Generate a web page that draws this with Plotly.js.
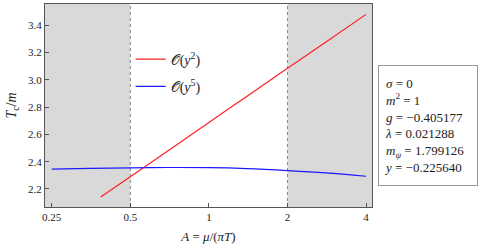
<!DOCTYPE html>
<html>
<head>
<meta charset="utf-8">
<script src="https://cdn.plot.ly/plotly-3.0.1.min.js"></script>
<style>html,body{margin:0;padding:0;background:#fff;}#chart{width:479px;height:248px;}</style>
</head>
<body>
<div id="chart"></div>
<script>
// Data
const xRed = [0.385, 0.5, 0.7, 1, 1.4, 2, 2.8, 4];
const yRed = [2.141, 2.290, 2.482, 2.687, 2.879, 3.083, 3.274, 3.478];
const xBlue = [0.25, 0.35, 0.5, 0.7, 1, 1.4, 2, 2.8, 4];
const yBlue = [2.345, 2.351, 2.355, 2.357, 2.356, 2.349, 2.335, 2.318, 2.293];
const seriesNames = ['𝒪(<i>y</i><sup>2</sup>)', '𝒪(<i>y</i><sup>5</sup>)'];
const xTicks = [0.25, 0.5, 1, 2, 4];
const xTickText = ['0.25', '0.5', '1', '2', '4'];
const yTicks = [2.2, 2.4, 2.6, 2.8, 3.0, 3.2, 3.4];
const yTickText = ['2.2', '2.4', '2.6', '2.8', '3.0', '3.2', '3.4'];
const shadeBounds = [0.5, 2];
const params = ['<i>σ</i> = 0', '<i>m</i><sup>2</sup> = 1', '<i>g</i> = −0.405177', '<i>λ</i> = 0.021288', '<i>m</i><sub><i>ψ</i></sub> = 1.799126', '<i>y</i> = −0.225640'];

const F = 'Liberation Serif, Times New Roman, serif';
const xMin = 0.2356, xMax = 4.215;

const traces = [
  {x: xRed, y: yRed, type: 'scatter', mode: 'lines', name: seriesNames[0], legendgroup: 'a',
   line: {color: '#ff2020', width: 1.2, shape: 'spline', smoothing: 0.6}},
  {x: xBlue, y: yBlue, type: 'scatter', mode: 'lines', name: seriesNames[1], legendgroup: 'b',
   line: {color: '#1a1aff', width: 1.2, shape: 'spline'}}
];

const layout = {
  width: 479, height: 248,
  margin: {l: 45, r: 107, t: 4, b: 41},
  paper_bgcolor: '#fff', plot_bgcolor: '#fff',
  font: {family: F, size: 11, color: '#222'},
  showlegend: true,
  legend: {x: 0.262, y: 0.805, xanchor: 'left', yanchor: 'top', bgcolor: 'rgba(0,0,0,0)',
           font: {family: F, size: 14, color: '#222'}, tracegroupgap: 6, itemwidth: 30},
  xaxis: {type: 'log', range: [Math.log10(xMin), Math.log10(xMax)],
          tickvals: xTicks, ticktext: xTickText, ticks: 'inside', ticklen: 4, tickcolor: '#555',
          showline: true, linecolor: '#555', linewidth: 1, mirror: true, showgrid: false, zeroline: false,
          title: {text: '<i>A</i> = <i>μ</i>/(<i>πT</i>)', font: {family: F, size: 13}, standoff: 9}},
  yaxis: {range: [2.068, 3.554], tickvals: yTicks, ticktext: yTickText, ticks: 'inside', ticklen: 4, tickcolor: '#555',
          showline: true, linecolor: '#555', linewidth: 1, mirror: true, showgrid: false, zeroline: false,
          title: {text: '<i>T</i><sub>c</sub>/<i>m</i>', font: {family: F, size: 14}, standoff: 8}},
  shapes: [
    {type: 'rect', xref: 'x', yref: 'paper', x0: xMin, x1: shadeBounds[0], y0: 0, y1: 1,
     fillcolor: '#d9d9d9', line: {width: 0}, layer: 'below'},
    {type: 'rect', xref: 'x', yref: 'paper', x0: shadeBounds[1], x1: xMax, y0: 0, y1: 1,
     fillcolor: '#d9d9d9', line: {width: 0}, layer: 'below'},
    {type: 'line', xref: 'x', yref: 'paper', x0: shadeBounds[0], x1: shadeBounds[0], y0: 0, y1: 1,
     line: {color: '#888', width: 1, dash: 'dot'}, layer: 'below'},
    {type: 'line', xref: 'x', yref: 'paper', x0: shadeBounds[1], x1: shadeBounds[1], y0: 0, y1: 1,
     line: {color: '#888', width: 1, dash: 'dot'}, layer: 'below'}
  ],
  annotations: [
    {xref: 'paper', yref: 'paper', x: 1.0185, y: 0.401, xanchor: 'left', yanchor: 'middle',
     text: params.join('<br>'), align: 'left', valign: 'middle', width: 88, height: 109, showarrow: false,
     font: {family: F, size: 13, color: '#222'}, bordercolor: '#999', borderwidth: 1, borderpad: 5, bgcolor: '#fff'}
  ]
};

Plotly.newPlot('chart', traces, layout, {displayModeBar: false, staticPlot: true});
</script>
</body>
</html>
